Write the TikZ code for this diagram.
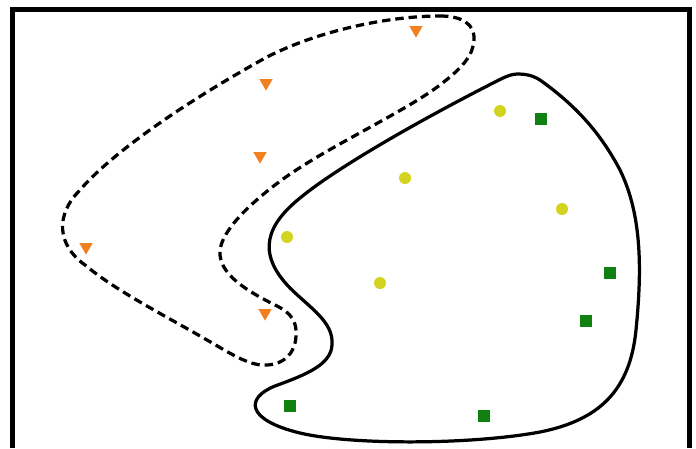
\documentclass[tikz,border=0pt]{standalone}
\usetikzlibrary{shapes.geometric}
\definecolor{markorange}{RGB}{240,128,32}
\definecolor{markyellow}{RGB}{212,212,32}
\definecolor{markgreen}{RGB}{16,128,16}

\begin{document}
\begin{tikzpicture}[x=0.025cm,y=-0.025cm,
  tri/.style={regular polygon,regular polygon sides=3,shape border rotate=180,
    fill=markorange,inner sep=0pt,minimum size=0.38cm},
  dot/.style={circle,fill=markyellow,inner sep=0pt,minimum size=0.3cm},
  sq/.style={rectangle,fill=markgreen,inner sep=0pt,minimum size=0.3cm}]
  \useasboundingbox (0,0) rectangle (696,448);
  % frame, open at the bottom
  \draw[line width=3.5pt] (12.5,448) -- (12.5,9.5) -- (689.5,9.5) -- (689.5,448);
  % dashed region
  \draw[line width=2.3pt,dash pattern=on 6pt off 3.5pt]
    (440,16) .. controls (462,16) and (475,24) .. (474,40)
    .. controls (473,56) and (462,68) .. (440,85)
    .. controls (400,115) and (320,150) .. (275,185)
    .. controls (245,208) and (218,235) .. (220,255)
    .. controls (222,275) and (245,290) .. (275,305)
    .. controls (292,313) and (297,322) .. (296,336)
    .. controls (295,355) and (282,366) .. (262,365)
    .. controls (245,364) and (225,350) .. (200,336)
    .. controls (160,313) and (115,290) .. (85,265)
    .. controls (57,245) and (55,215) .. (80,190)
    .. controls (110,155) and (180,105) .. (267,57)
    .. controls (320,30) and (390,16) .. cycle;
  % solid region
  \draw[line width=2.3pt]
    (518,74) .. controls (510,74) and (503,78) .. (495,82)
    .. controls (430,115) and (340,165) .. (300,198)
    .. controls (268,224) and (255,252) .. (290,288)
    .. controls (310,308) and (334,322) .. (332,345)
    .. controls (331,365) and (305,375) .. (275,386)
    .. controls (245,398) and (246,420) .. (300,433)
    .. controls (350,445) and (470,445) .. (540,432)
    .. controls (600,420) and (630,390) .. (636,330)
    .. controls (642,270) and (642,215) .. (620,170)
    .. controls (600,132) and (575,105) .. (540,80)
    .. controls (532,75) and (525,74) .. cycle;
  % markers
  \foreach \x/\y [count=\i] in {416/30,266/83,260/156,86/247,265/313}
    \node[tri] (t\i) at (\x,\y) {};
  \foreach \x/\y [count=\i] in {500/111,405/178,562/209,287/237,380/283}
    \node[dot] (c\i) at (\x,\y) {};
  \foreach \x/\y [count=\i] in {541/119,610/273,586/321,290/406,484/416}
    \node[sq] (s\i) at (\x,\y) {};
\end{tikzpicture}
\end{document}
